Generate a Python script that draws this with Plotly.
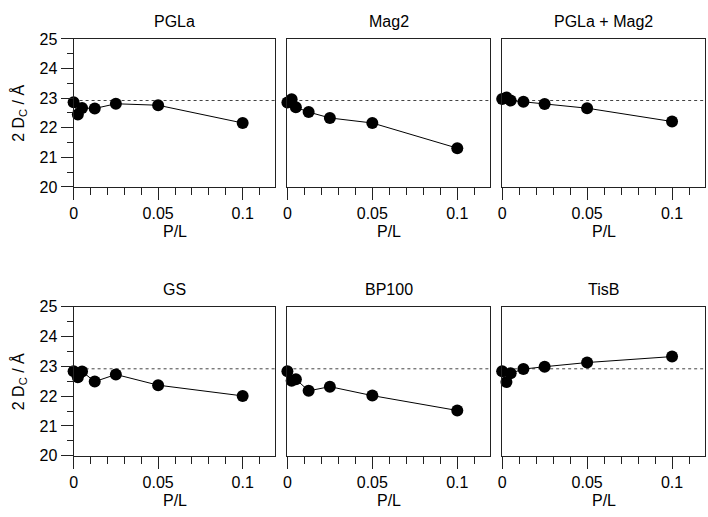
import plotly.graph_objects as go

# ---- data ----
pl = [0, 0.0025, 0.005, 0.0125, 0.025, 0.05, 0.1]
titles = ["PGLa", "Mag2", "PGLa + Mag2", "GS", "BP100", "TisB"]
d_pgla = [22.86, 22.45, 22.67, 22.65, 22.81, 22.76, 22.16]
d_mag2 = [22.85, 22.96, 22.69, 22.53, 22.33, 22.16, 21.31]
d_pgla_mag2 = [22.97, 23.02, 22.92, 22.88, 22.80, 22.66, 22.21]
d_gs = [22.84, 22.64, 22.83, 22.49, 22.73, 22.37, 22.01]
d_bp100 = [22.84, 22.52, 22.57, 22.18, 22.32, 22.02, 21.52]
d_tisb = [22.84, 22.48, 22.77, 22.91, 22.99, 23.13, 23.33]
ref_line = 22.92
x_ticks = [0, 0.05, 0.1]
x_ticklabels = ["0", "0.05", "0.1"]
y_ticks = [20, 21, 22, 23, 24, 25]
series = [d_pgla, d_mag2, d_pgla_mag2, d_gs, d_bp100, d_tisb]

W, H = 708, 517
col_px = [(70, 273), (285, 489), (501, 705)]
row_px = [(32, 185), (309, 463)]

FONT = "Liberation Sans, Arial, sans-serif"
FS = 16
fig = go.Figure()
layout = dict(
    autosize=True, margin=dict(l=0, r=0, t=0, b=0),
    paper_bgcolor="white", plot_bgcolor="white", showlegend=False,
    font=dict(family=FONT, size=FS, color="black"),
)
annotations = []
shapes = []
for i, (name, ys) in enumerate(zip(titles, series)):
    r, c = divmod(i, 3)
    n = i + 1
    xa = "x" if n == 1 else f"x{n}"
    ya = "y" if n == 1 else f"y{n}"
    fig.add_trace(go.Scatter(
        x=pl, y=ys, mode="lines+markers", xaxis=xa, yaxis=ya,
        line=dict(color="black", width=1),
        marker=dict(color="black", size=12),
        cliponaxis=False,
    ))
    x0, x1 = col_px[c]
    y0, y1 = row_px[r]
    xd = [x0 / W, x1 / W]
    yd = [1 - y1 / H, 1 - y0 / H]
    xkey = "xaxis" if n == 1 else f"xaxis{n}"
    ykey = "yaxis" if n == 1 else f"yaxis{n}"
    layout[xkey] = dict(
        domain=xd, anchor=ya, range=[0, 0.1194],
        tickmode="array", tickvals=x_ticks, ticktext=x_ticklabels,
        ticks="outside", ticklen=12, tickwidth=1, tickcolor="#222",
        minor=dict(dtick=0.01, tick0=0, ticks="outside", ticklen=7,
                   tickwidth=1, tickcolor="#222", showgrid=False),
        showline=True, linecolor="#222", linewidth=1, mirror=True,
        showgrid=False, zeroline=False,
        tickfont=dict(size=FS, family=FONT),
    )
    ydict = dict(
        domain=yd, anchor=xa, range=[20, 25],
        showline=True, linecolor="#222", linewidth=1, mirror=True,
        showgrid=False, zeroline=False,
    )
    if c == 0:
        ydict.update(
            tickmode="array", tickvals=y_ticks,
            ticks="outside", ticklen=12, tickwidth=1, tickcolor="#222",
            minor=dict(dtick=0.5, tick0=20, ticks="outside", ticklen=6,
                       tickwidth=1, tickcolor="#222", showgrid=False),
            tickfont=dict(size=FS, family=FONT),
        )
    else:
        ydict.update(ticks="", showticklabels=False)
    layout[ykey] = ydict

    shapes.append(dict(
        type="line", xref=f"{xa} domain", yref=ya,
        x0=0, x1=1, y0=ref_line, y1=ref_line,
        line=dict(color="#444", width=1, dash="dot"), layer="below",
    ))
    cx = (x0 + x1) / 2 / W
    annotations.append(dict(
        text=name, x=cx, y=1 - (y0 - 18) / H, xref="paper", yref="paper",
        showarrow=False, xanchor="center", yanchor="middle",
        font=dict(size=FS, family=FONT),
    ))
    annotations.append(dict(
        text="P/L", x=cx, y=1 - (y1 + 46) / H, xref="paper", yref="paper",
        showarrow=False, xanchor="center", yanchor="middle",
        font=dict(size=FS, family=FONT),
    ))
    if c == 0:
        annotations.append(dict(
            text="2 D<sub>C</sub> / Å", x=15 / W, y=1 - ((y0 + y1) / 2) / H,
            xref="paper", yref="paper", showarrow=False, textangle=-90,
            xanchor="center", yanchor="middle",
            font=dict(size=FS, family=FONT),
        ))

layout["annotations"] = annotations
layout["shapes"] = shapes
fig.update_layout(**layout)
fig.write_html(
    "out.html",
    default_width="100vw",
    default_height="100vh",
    config={"displayModeBar": False, "responsive": True},
    post_script=(
        "document.documentElement.style.margin='0';"
        "document.body.style.margin='0';document.body.style.overflow='hidden';"
        "Plotly.Plots.resize(document.getElementById('{plot_id}'));"
    ),
)
